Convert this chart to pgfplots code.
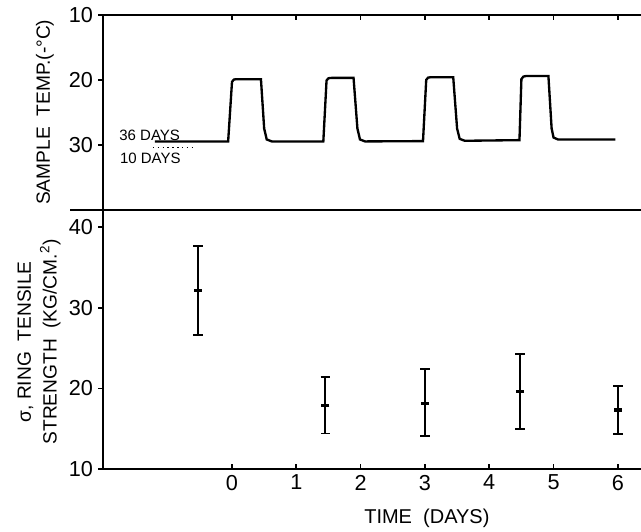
\documentclass[border=0pt]{standalone}
\usepackage{pgfplots}
\pgfplotsset{compat=1.18}
\usepackage{fontspec}
\setmainfont{Liberation Sans}
\begin{document}
\begin{tikzpicture}
\useasboundingbox (0,0) rectangle (384.6pt,-318.6pt);
\pgfplotsset{
  every axis/.append style={
    scale only axis,
    anchor=north west,
    width=322.8pt,
    xmin=-2.006, xmax=6.36,
    axis line style={line width=1.2pt},
    axis y line*=left,
    tick align=inside,
    major tick length=2.8pt,
    every tick/.style={black,line width=1pt},
    ytick style={xshift=-2.8pt},
    yticklabel style={xshift=-2.5pt},
    tick label style={font=\fontsize{13}{15}\selectfont},
    /pgf/number format/assume math mode=true,
    xtick={0,1,2,3,4,5,6},
  }
}
% ---------- top panel: sample temperature ----------
\begin{axis}[
  at={(103*0.6pt,-15*0.6pt)},
  height=116.7pt,
  ymin=10, ymax=40, y dir=reverse,
  ytick={10,20,30},
  xtick pos=right,
  xticklabels={},
  ylabel={SAMPLE\ \ TEMP.(-°C)},
  ylabel style={font=\fontsize{11.5}{13}\selectfont, at={(axis description cs:-0.108,0.5)}, anchor=center, rotate=0},
]
\addplot[black, line width=1.4pt] coordinates {
 (-1.2,29.5) (-0.06,29.5) (0.0,20.3) (0.03,19.95) (0.07,19.9) (0.45,19.9) (0.5,27.5) (0.54,29.2) (0.62,29.5)
 (1.42,29.5) (1.47,20.1) (1.5,19.75) (1.55,19.7) (1.89,19.7) (1.95,27.5) (1.99,29.2) (2.07,29.5)
 (2.97,29.45) (3.02,20.0) (3.05,19.65) (3.09,19.6) (3.44,19.6) (3.5,27.5) (3.54,29.1) (3.62,29.4)
 (4.47,29.3) (4.5,19.9) (4.53,19.5) (4.58,19.4) (4.92,19.4) (4.97,27.5) (5.0,28.9) (5.07,29.2) (5.96,29.2)
};
\addplot[black, line width=0.9pt, dotted] coordinates {(-1.23,30.4) (-0.58,30.4)};
\node[font=\fontsize{9}{10}\selectfont] at (axis cs:-1.28,28.5) {36 DAYS};
\node[font=\fontsize{9}{10}\selectfont] at (axis cs:-1.27,32.1) {10 DAYS};
\end{axis}
% ---------- bottom panel: ring tensile strength ----------
\begin{axis}[
  at={(103*0.6pt,-209.5*0.6pt)},
  height=155.7pt,
  ymin=10, ymax=42.17,
  ytick={10,20,30,40},
  xtick pos=left,
  xlabel={TIME\ \ (DAYS)},
  xlabel style={font=\fontsize{12}{14}\selectfont, at={(axis description cs:0.602,-0.189)}, anchor=center},
  ylabel={\shortstack{σ, RING\ \ TENSILE\\[1pt] STRENGTH\ \ (KG/CM.\textsuperscript{2})}},
  ylabel style={font=\fontsize{11.5}{13}\selectfont, at={(axis description cs:-0.119,0.49)}, anchor=center, rotate=0},
]
\addplot[black, line width=2pt, only marks, mark=-, mark size=2.4pt,
  error bars/.cd, y dir=both, y explicit,
  error bar style={line width=1.1pt},
  error mark options={rotate=90, mark size=2.8pt, line width=1.1pt}]
  table[x=x, y=y, y error plus=ep, y error minus=em] {
x y ep em
-0.53 32.1 5.5 5.5
1.45 17.9 3.5 3.5
3.0 18.1 4.3 4.0
4.48 19.6 4.7 4.6
6.0 17.3 3.0 3.0
};
\end{axis}
\draw[line width=1.2pt] (70*0.6pt,-209.5*0.6pt) -- (384.6pt,-209.5*0.6pt);
\end{tikzpicture}
\end{document}
